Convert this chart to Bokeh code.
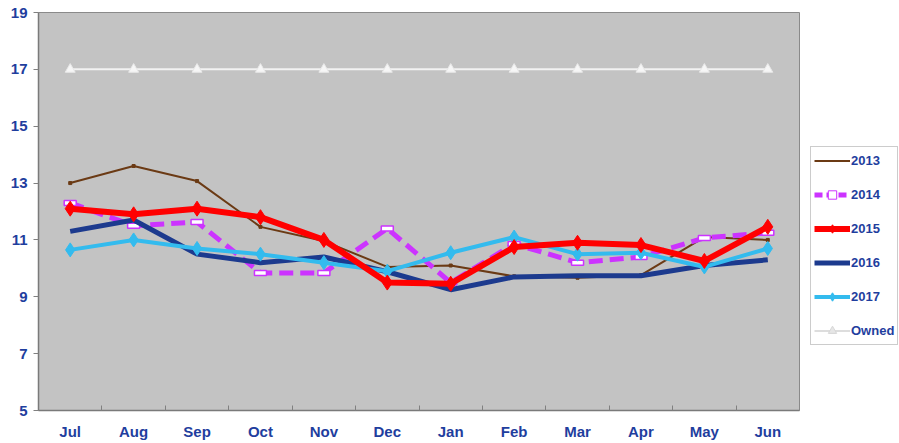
import numpy as np
from bokeh.plotting import figure
from bokeh.layouts import row
from bokeh.models import Range1d, FixedTicker, Legend, LegendItem
from bokeh.embed import file_html
from bokeh.resources import INLINE

months = ["Jul", "Aug", "Sep", "Oct", "Nov", "Dec", "Jan", "Feb", "Mar", "Apr", "May", "Jun"]
y_ticks = [5, 7, 9, 11, 13, 15, 17, 19]

s2013 = [13.0, 13.6, 13.07, 11.46, 10.96, 10.05, 10.1, 9.72, 9.67, 9.76, 11.1, 11.0]
s2014 = [12.3, 11.5, 11.63, 9.84, 9.84, 11.4, 9.5, 10.86, 10.2, 10.4, 11.07, 11.25]
s2015 = [12.1, 11.9, 12.1, 11.8, 11.0, 9.5, 9.46, 10.75, 10.9, 10.82, 10.26, 11.46]
s2016 = [11.3, 11.7, 10.5, 10.2, 10.4, 9.88, 9.25, 9.7, 9.74, 9.74, 10.1, 10.3]
s2017 = [10.65, 11.0, 10.7, 10.5, 10.2, 9.9, 10.55, 11.1, 10.5, 10.55, 10.05, 10.7]
owned = [17] * 12

x = list(np.arange(len(months)) + 0.5)

TEXT = "#1F3E9E"
FONT = "Liberation Sans"
C13, C14, C15, C16, C17, CO = "#6B3A14", "#CC33FF", "#FF0000", "#1C3A8E", "#33BBEE", "#EEEEEE"

p = figure(width=800, height=443, output_backend="svg", toolbar_location=None,
           x_range=Range1d(0, len(months)), y_range=Range1d(5, 19),
           min_border_left=38, min_border_right=1, min_border_top=12, min_border_bottom=33,
           background_fill_color="#C3C3C3", border_fill_color="white",
           outline_line_color="#8A8A8A", outline_line_width=1)
p.xgrid.visible = False
p.ygrid.visible = False

# x axis
p.xaxis.ticker = FixedTicker(ticks=x, minor_ticks=list(range(1, len(months))))
p.xaxis.major_label_overrides = {float(v): m for v, m in zip(x, months)}
p.xaxis.major_tick_in = 0
p.xaxis.major_tick_out = 0
p.xaxis.minor_tick_in = 5
p.xaxis.minor_tick_out = 0
p.xaxis.minor_tick_line_color = "#808080"
p.xaxis.major_label_standoff = 12
# y axis
p.yaxis.ticker = FixedTicker(ticks=y_ticks)
p.yaxis.major_tick_in = 0
p.yaxis.major_tick_out = 5
p.yaxis.minor_tick_line_color = None
p.yaxis.major_label_standoff = 6
for ax in (p.xaxis, p.yaxis):
    ax.axis_line_color = "#7A7A7A"
    ax.axis_line_width = 1.5
    ax.major_tick_line_color = "#808080"
    ax.major_label_text_color = TEXT
    ax.major_label_text_font = FONT
    ax.major_label_text_font_style = "bold"
    ax.major_label_text_font_size = "15px"

# Owned
p.line(x, owned, line_color="#F2F2F2", line_width=2)
p.scatter(x, owned, marker="triangle", size=10, fill_color="#F6F6F6", line_color="#E8E8E8")
# 2013
p.line(x, s2013, line_color=C13, line_width=2)
p.scatter(x, s2013, marker="square", size=3, fill_color=C13, line_color=C13)
# 2014
p.line(x, s2014, line_color=C14, line_width=5, line_dash="14 7")
p.rect(x, s2014, width=12, height=5, width_units="screen", height_units="screen",
       fill_color="white", line_color=C14, line_width=1.5)
# 2016
p.line(x, s2016, line_color=C16, line_width=5)
# 2017
p.line(x, s2017, line_color=C17, line_width=4)
p.scatter(x, s2017, marker="diamond", size=14, fill_color=C17, line_color=C17)
# 2015
p.line(x, s2015, line_color=C15, line_width=6)
p.scatter(x, s2015, marker="diamond", size=15, fill_color=C15, line_color=C15)

# legend panel (same series, drawn outside its visible range so only the legend shows)
q = figure(width=99, height=443, output_backend="svg", toolbar_location=None,
           x_range=Range1d(0, 1), y_range=Range1d(0, 1),
           min_border_left=0, min_border_right=0, min_border_top=0, min_border_bottom=0,
           background_fill_color="white", border_fill_color="white", outline_line_color=None)
q.axis.visible = False
q.grid.visible = False
lx = [x[0] + 100, x[1] + 100]
l13 = [q.line(lx, s2013[:2], line_color=C13, line_width=2)]
l14 = [q.line(lx, s2014[:2], line_color=C14, line_width=5, line_dash="8 4"),
       q.scatter(lx, s2014[:2], marker="square", size=4, fill_color="white", line_color=C14)]
l15 = [q.line(lx, s2015[:2], line_color=C15, line_width=6),
       q.scatter(lx, s2015[:2], marker="diamond", size=10, fill_color=C15, line_color=C15)]
l16 = [q.line(lx, s2016[:2], line_color=C16, line_width=5)]
l17 = [q.line(lx, s2017[:2], line_color=C17, line_width=4),
       q.scatter(lx, s2017[:2], marker="diamond", size=9, fill_color=C17, line_color=C17)]
lo = [q.line(lx, owned[:2], line_color="#DDDDDD", line_width=2),
      q.scatter(lx, owned[:2], marker="triangle", size=7, fill_color="#E6E6E6", line_color="#D8D8D8")]

legend = Legend(items=[
    LegendItem(label="2013", renderers=l13),
    LegendItem(label="2014", renderers=l14),
    LegendItem(label="2015", renderers=l15),
    LegendItem(label="2016", renderers=l16),
    LegendItem(label="2017", renderers=l17),
    LegendItem(label="Owned", renderers=lo),
], location=(10, 65))
legend.glyph_width = 36
legend.glyph_height = 21
legend.label_height = 21
legend.spacing = 13
legend.padding = 3
legend.margin = 0
legend.label_standoff = 1
legend.label_text_font = FONT
legend.label_text_font_style = "bold"
legend.label_text_font_size = "13px"
legend.label_text_color = TEXT
legend.border_line_color = "#9A9A9A"
legend.border_line_width = 1
legend.background_fill_color = "white"
legend.background_fill_alpha = 1
q.add_layout(legend, "center")

layout = row(p, q, spacing=0)
open("out.html", "w").write(file_html(layout, INLINE))
